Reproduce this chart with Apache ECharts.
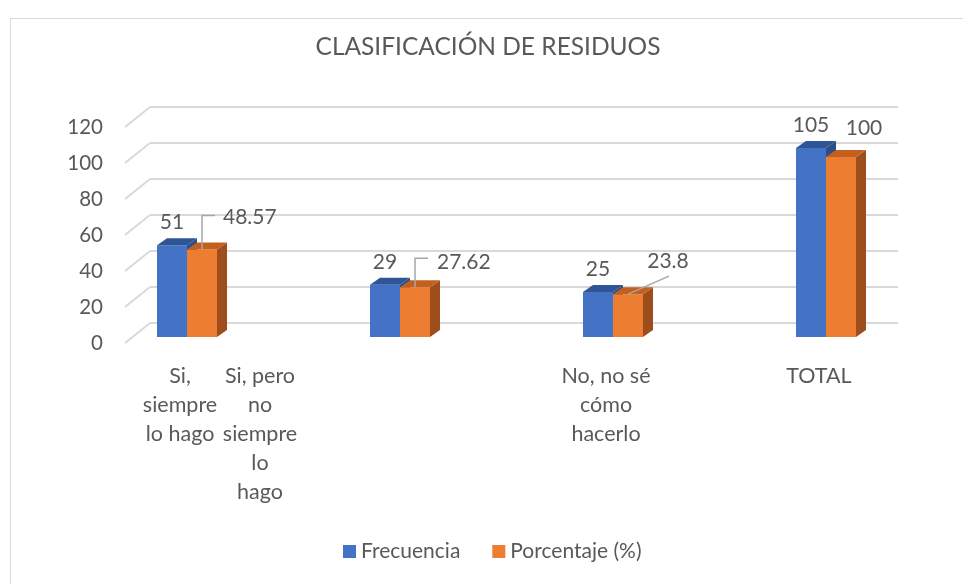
<!DOCTYPE html>
<html>
<head>
<meta charset="utf-8">
<script src="https://cdn.jsdelivr.net/npm/echarts@6/dist/echarts.min.js"></script>
<style>
  html, body { margin:0; padding:0; overflow:hidden; background:#fff; }
  #chart { position:absolute; left:0; top:0; width:963px; height:584px; }
  #frame { position:absolute; left:10px; top:18px; width:2000px; height:2000px; border:1px solid #d9d9d9; pointer-events:none; }
</style>
</head>
<body>
<div id="chart"></div>
<div id="frame"></div>
<script>
// ---- data ----
const categories = ['Si, siempre lo hago', 'Si, pero no siempre lo hago', 'No, no sé cómo hacerlo', 'TOTAL'];
const categoryLabels = ['Si,\nsiempre\nlo hago', 'Si, pero\nno\nsiempre\nlo\nhago', 'No, no sé\ncómo\nhacerlo', 'TOTAL'];
const frecuencia = [51, 29, 25, 105];
const porcentaje = [48.57, 27.62, 23.8, 100];
const pctLabels = ['48.57', '27.62', '23.8', '100'];
const yTicks = [0, 20, 40, 60, 80, 100, 120];
const seriesNames = ['Frecuencia', 'Porcentaje (%)'];
const titleText = 'CLASIFICACIÓN DE RESIDUOS';

// ---- layout / style ----
const FONT = 'Lato';
const TXT = '#595959';
const BAR_W = 30, DX = 10, DY = 7;
const blueCols = { front:'#4472C4', top:'#2F5597', side:'#2C4F8A' };
const orangeCols = { front:'#ED7D31', top:'#C4601F', side:'#9E4D1D' };
// label placement for the percentage series, relative to (front-face centre, front-face top)
const pctLabelLayout = [
  { kind:'elbow', rise:34, run:13, tx:21, ty:-32 },
  { kind:'elbow', rise:29, run:13, tx:22, ty:-25 },
  { kind:'diag', lx:41, ly:-18, tx:40, ty:-33, center:true },
  { kind:'none', tx:23, ty:-29, center:true }
];

function makeBar(cols, side, labelFn) {
  return function (params, api) {
    const ci = api.value(0), v = api.value(1);
    const top = api.coord([ci, v]);
    const base = api.coord([ci, 0]);
    const x0 = side < 0 ? top[0] - BAR_W : top[0];
    const x1 = x0 + BAR_W;
    const yt = top[1], yb = base[1];
    const children = [
      { type:'rect', shape:{ x:x0, y:yt, width:BAR_W, height:yb - yt }, style:{ fill:cols.front } },
      { type:'polygon', shape:{ points:[[x1, yt],[x1 + DX, yt - DY],[x1 + DX, yb - DY],[x1, yb]] }, style:{ fill:cols.side } },
      { type:'polygon', shape:{ points:[[x0, yt],[x1, yt],[x1 + DX, yt - DY],[x0 + DX, yt - DY]] }, style:{ fill:cols.top } }
    ];
    labelFn(params.dataIndex, (x0 + x1) / 2, yt, children);
    return { type:'group', children };
  };
}

function blueLabel(i, cx, ty, children) {
  children.push({ type:'text', style:{ text:String(frecuencia[i]), x:cx, y:ty - 23, fill:TXT,
    font:'21px ' + FONT, align:'center', verticalAlign:'middle' } });
}
function orangeLabel(i, cx, ty, children) {
  const L = pctLabelLayout[i];
  if (L.kind === 'elbow') {
    children.push({ type:'polyline', shape:{ points:[[cx, ty],[cx, ty - L.rise],[cx + L.run, ty - L.rise]] },
      style:{ stroke:'#a6a6a6', lineWidth:1.5, fill:null } });
  } else if (L.kind === 'diag') {
    children.push({ type:'line', shape:{ x1:cx, y1:ty, x2:cx + L.lx, y2:ty + L.ly },
      style:{ stroke:'#a6a6a6', lineWidth:1.5 } });
  }
  children.push({ type:'text', style:{ text:pctLabels[i], x:cx + L.tx, y:ty + L.ty, fill:TXT,
    font:'21px ' + FONT, align:L.center ? 'center' : 'left', verticalAlign:'middle' } });
}

const chart = echarts.init(document.getElementById('chart'));
chart.setOption({
  animation:false,
  title:{ text:titleText, left:488, textAlign:'center', top:35, padding:0,
    textStyle:{ fontFamily:FONT, fontSize:24.5, fontWeight:'normal', color:TXT } },
  legend:{ data:seriesNames, left:338, top:536, icon:'rect', itemWidth:13, itemHeight:13, itemGap:32,
    textStyle:{ fontFamily:FONT, fontSize:21, color:TXT } },
  grid:[
    { left:80.5, right:30.5, top:121, height:216 },   // bars
    { left:150, right:65, top:107, height:216 },      // back wall
    { left:126, right:89, top:127, height:216 }       // front (y labels)
  ],
  xAxis:[
    { gridIndex:0, type:'category', data:categories, axisLine:{show:false}, axisTick:{show:false},
      axisLabel:{ interval:0, margin:25,
        formatter:function (val, idx) { return '{' + (idx === 1 ? 'b' : 'a') + '|' + categoryLabels[idx] + '}'; },
        rich:{
          a:{ fontFamily:FONT, fontSize:21.5, color:TXT, lineHeight:29, padding:[0,14,0,0] },
          b:{ fontFamily:FONT, fontSize:21.5, color:TXT, lineHeight:29, padding:[0,280,0,0] }
        } } },
    { gridIndex:1, type:'value', min:0, max:1, show:false },
    { gridIndex:2, type:'value', min:0, max:1, show:false }
  ],
  yAxis:[
    { gridIndex:0, type:'value', min:0, max:120, interval:20, show:false },
    { gridIndex:1, type:'value', min:0, max:120, interval:20, axisLabel:{show:false}, axisLine:{show:false},
      axisTick:{show:false}, splitLine:{ lineStyle:{ color:'#d9d9d9', width:2 } } },
    { gridIndex:2, type:'value', min:0, max:120, interval:20, axisLine:{show:false}, axisTick:{show:false},
      splitLine:{show:false}, axisLabel:{ margin:23, fontFamily:FONT, fontSize:20.5, color:TXT } }
  ],
  series:[
    { type:'custom', name:'floorEdges', xAxisIndex:1, yAxisIndex:1, silent:true,
      data:yTicks.map(function (t) { return [0, t]; }),
      renderItem:function (params, api) {
        const p = api.coord([0, api.value(1)]);
        return { type:'line', shape:{ x1:p[0], y1:p[1], x2:p[0] - 25, y2:p[1] + 20 },
          style:{ stroke:'#d9d9d9', lineWidth:2 } };
      } },
    { type:'custom', name:seriesNames[0], xAxisIndex:0, yAxisIndex:0, itemStyle:{ color:blueCols.front },
      data:frecuencia.map(function (v, i) { return [i, v]; }),
      renderItem:makeBar(blueCols, -1, blueLabel) },
    { type:'custom', name:seriesNames[1], xAxisIndex:0, yAxisIndex:0, itemStyle:{ color:orangeCols.front },
      data:porcentaje.map(function (v, i) { return [i, v]; }),
      renderItem:makeBar(orangeCols, 1, orangeLabel) }
  ]
});
</script>
</body>
</html>
